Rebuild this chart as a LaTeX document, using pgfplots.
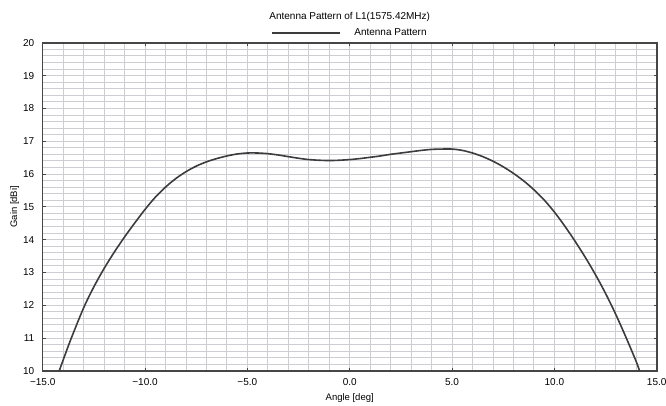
\documentclass[border=0pt]{standalone}
\usepackage{pgfplots}
\pgfplotsset{compat=1.18}
\usepackage{fontspec}
\setmainfont{Liberation Sans}
\definecolor{axgray}{RGB}{70,70,70}
\definecolor{gridgray}{RGB}{205,205,210}
\definecolor{curve}{RGB}{60,60,60}
\pgfplotstableread{
x y
-14.19 10.00
-14.00 10.33
-13.60 11.00
-13.00 11.92
-12.50 12.56
-12.00 13.12
-11.50 13.62
-11.00 14.08
-10.50 14.51
-10.00 14.92
-9.50 15.29
-9.00 15.60
-8.50 15.86
-8.00 16.07
-7.50 16.24
-7.00 16.37
-6.50 16.47
-6.00 16.55
-5.50 16.61
-5.00 16.64
-4.50 16.64
-4.00 16.62
-3.50 16.58
-3.00 16.53
-2.50 16.48
-2.00 16.44
-1.50 16.42
-1.00 16.41
-0.50 16.42
0.00 16.44
0.50 16.47
1.00 16.51
1.50 16.55
2.00 16.60
2.50 16.64
3.00 16.68
3.50 16.72
4.00 16.75
4.50 16.76
5.00 16.76
5.50 16.72
6.00 16.64
6.50 16.53
7.00 16.39
7.50 16.22
8.00 16.02
8.50 15.79
9.00 15.52
9.50 15.21
10.00 14.84
10.50 14.42
11.00 13.96
11.50 13.47
12.00 12.94
12.50 12.36
13.00 11.72
13.50 11.02
14.00 10.28
14.16 10.00
}\pattern
\begin{document}
\begin{tikzpicture}
\path[use as bounding box] (-42.7pt,-34.3pt) rectangle (623.3pt,370.8pt);
\begin{axis}[
  at={(0,0)}, anchor=south west,
  scale only axis, width=614pt, height=328pt,
  xmin=-15, xmax=15, ymin=10, ymax=20,
  xtick={-15,-10,-5,0,5,10,15},
  xticklabels={−15.0,−10.0,−5.0,0.0,5.0,10.0,15.0},
  ytick={10,11,...,20},
  minor x tick num=4,
  minor y tick num=4,
  grid=both,
  major grid style={gridgray, line width=0.9pt},
  minor grid style={gridgray, line width=0.9pt},
  axis line style={axgray, line width=1.6pt},
  tick style={axgray, line width=0.8pt},
  major tick length=3pt, minor tick length=0pt,
  tick align=inside,
  /pgf/number format/assume math mode=true,
  every tick label/.append style={font=\fontsize{10}{12}\selectfont, text=black},
  xticklabel style={yshift=-4pt},
  yticklabel style={xshift=-5pt},
  xlabel={Angle [deg]},
  ylabel={Gain [dBi]},
  label style={font=\fontsize{9.5}{11}\selectfont},
  xlabel style={yshift=-1pt},
  ylabel style={yshift=-3pt},
  title={Antenna Pattern of L1(1575.42MHz)},
  title style={font=\fontsize{10}{12}\selectfont, at={(0.5,1)}, anchor=center, yshift=20pt},
  legend style={at={(0.5,1)}, anchor=center, yshift=10pt, draw=none, fill=none,
    font=\fontsize{10}{12}\selectfont},
  legend cell align=left,
  legend image code/.code={\draw[#1] (0pt,0pt) -- (68pt,0pt);},
]
\addplot[curve, line width=1.6pt, line join=round, smooth] table[x=x,y=y] {\pattern};
\addlegendentry{\hspace{12pt}Antenna Pattern}
\end{axis}
\end{tikzpicture}
\end{document}
